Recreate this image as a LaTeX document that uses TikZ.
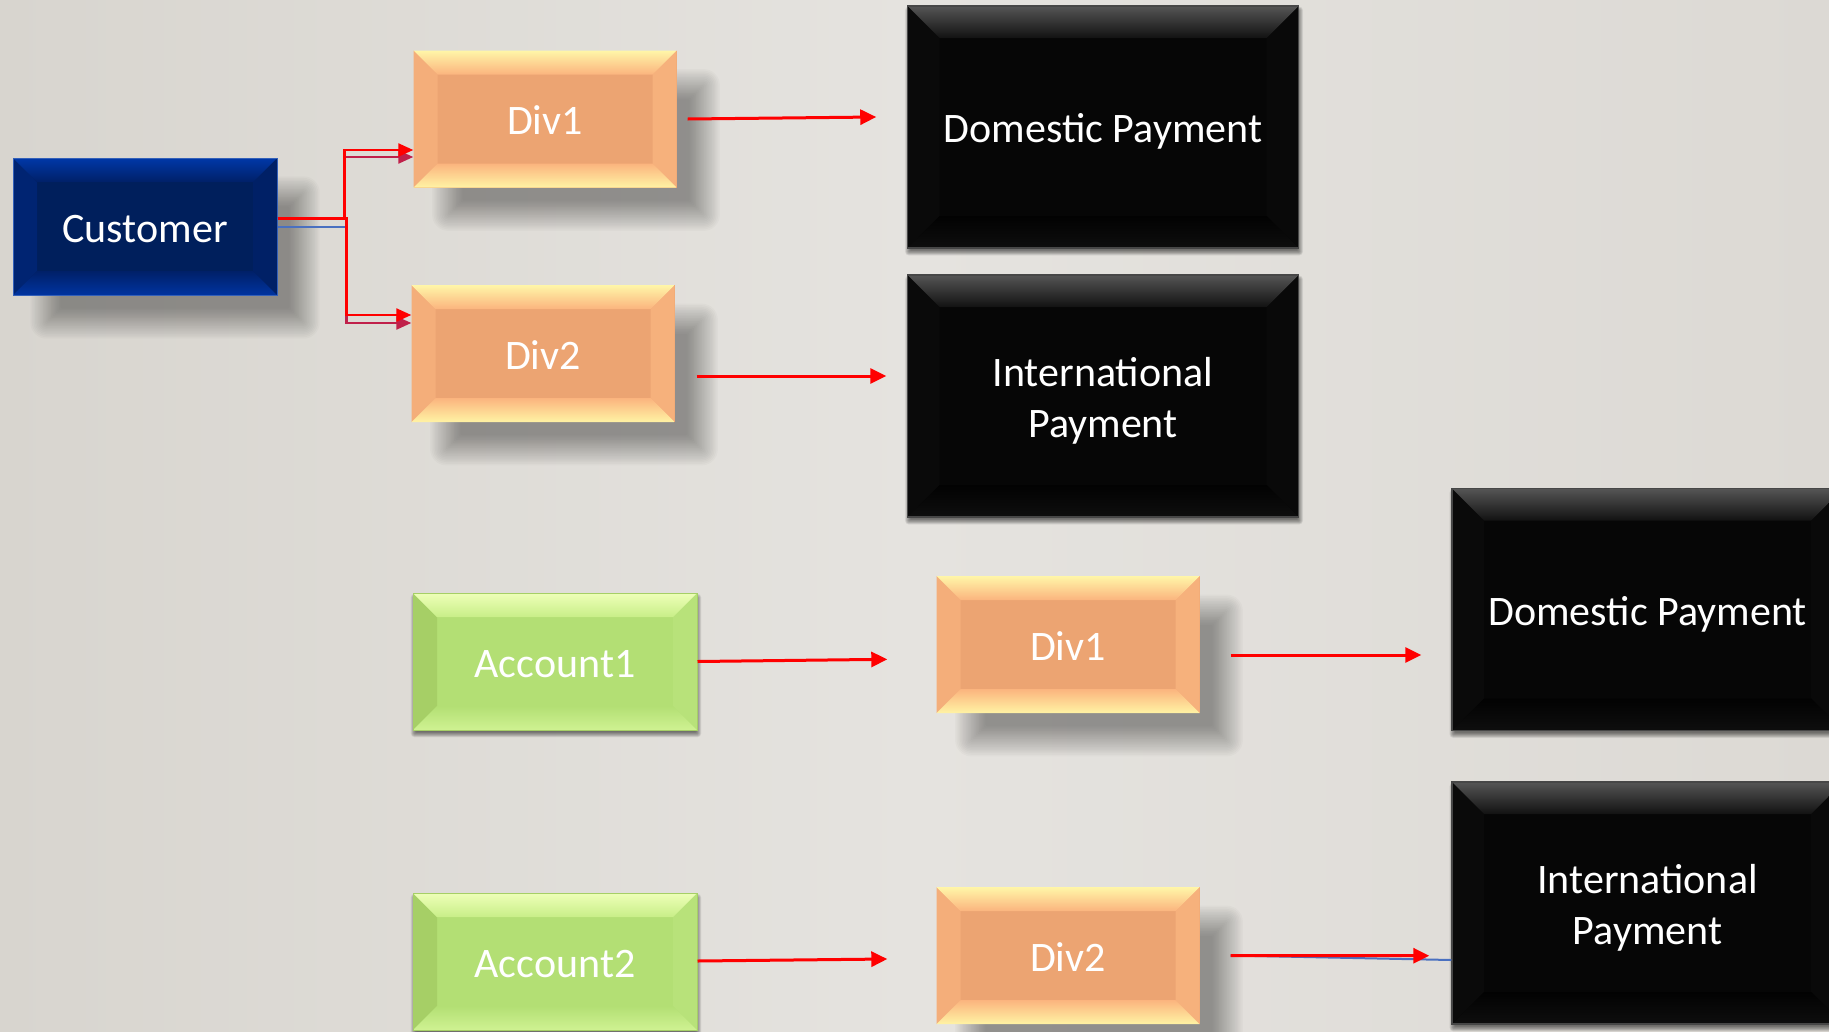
\documentclass[tikz,border=0pt]{standalone}
\usepackage{fontspec}
\setmainfont{Carlito}
\usetikzlibrary{arrows.meta,calc}
\pgfdeclarelayer{bg}
\pgfdeclarelayer{shadow}
\pgfsetlayers{bg,shadow,main}
\definecolor{bgL}{HTML}{D8D5CF}
\definecolor{bgM}{HTML}{E5E3DF}
\definecolor{bgR}{HTML}{DCD9D4}
\definecolor{orMain}{HTML}{ECA472}
\definecolor{orT1}{HTML}{FFF6A8}
\definecolor{orT2}{HTML}{FBB47E}
\definecolor{orB1}{HTML}{FBB47E}
\definecolor{orB2}{HTML}{FFF3A4}
\definecolor{orL}{HTML}{F4AE7A}
\definecolor{orR}{HTML}{F6B17C}
\definecolor{nvMain}{HTML}{001F5C}
\definecolor{nvT1}{HTML}{0038A8}
\definecolor{nvT2}{HTML}{002068}
\definecolor{nvB1}{HTML}{002068}
\definecolor{nvB2}{HTML}{0034A0}
\definecolor{nvL}{HTML}{002472}
\definecolor{nvR}{HTML}{002066}
\definecolor{grMain}{HTML}{B3DF74}
\definecolor{grT1}{HTML}{EEFFB8}
\definecolor{grT2}{HTML}{C8EE88}
\definecolor{grB1}{HTML}{B3DF74}
\definecolor{grB2}{HTML}{CFF292}
\definecolor{grL}{HTML}{A6CF66}
\definecolor{grR}{HTML}{B8E27A}
\definecolor{bkMain}{HTML}{060606}
\definecolor{bkT1}{HTML}{555555}
\definecolor{bkT2}{HTML}{121212}
\definecolor{bkB1}{HTML}{020202}
\definecolor{bkB2}{HTML}{0E0E0E}
\definecolor{bkL}{HTML}{0A0A0A}
\definecolor{bkR}{HTML}{090909}
\definecolor{crim}{HTML}{C0204A}
\definecolor{lnblue}{HTML}{4A70C0}
\newcommand\bevelpic[7]{%
  \path (path picture bounding box.north west) coordinate (pNW)
        (path picture bounding box.north east) coordinate (pNE)
        (path picture bounding box.south west) coordinate (pSW)
        (path picture bounding box.south east) coordinate (pSE);
  \path ([shift={(#1,-#1)}]pNW) coordinate (iNW)
        ([shift={(-#1,-#1)}]pNE) coordinate (iNE)
        ([shift={(#1,#1)}]pSW) coordinate (iSW)
        ([shift={(-#1,#1)}]pSE) coordinate (iSE);
  \fill[#6] (pNW) -- (iNW) -- (iSW) -- (pSW) -- cycle;
  \fill[#7] (pNE) -- (iNE) -- (iSE) -- (pSE) -- cycle;
  \shade[top color=#2, bottom color=#3] (pNW) -- (pNE) -- (iNE) -- (iNW) -- cycle;
  \shade[top color=#4, bottom color=#5] (iSW) -- (iSE) -- (pSE) -- (pSW) -- cycle;
}
% soft shadow: node, dx, dy (down), shrink, blur radius, opacity per step
\newcommand\softshadow[6]{%
  \begin{pgfonlayer}{shadow}
  \foreach \k in {1,...,20}{%
    \pgfmathsetmacro\ee{#5*(1-(\k-0.5)/10)-(#4)}%
    \pgfmathsetmacro\xa{#2-(\ee)}%
    \pgfmathsetmacro\xb{#2+(\ee)}%
    \pgfmathsetmacro\ya{-#3+(\ee)}%
    \pgfmathsetmacro\yb{-#3-(\ee)}%
    \pgfmathsetmacro\rc{max(#5*(1-(\k-0.5)/10),0)+1}%
    \fill[black,opacity=#6,rounded corners=\rc pt]
      ([shift={(\xa pt,\ya pt)}]#1.north west) rectangle ([shift={(\xb pt,\yb pt)}]#1.south east);
  }
  \end{pgfonlayer}}
\newcommand\lowtxt[1]{\raisebox{-12pt}[0pt][0pt]{\begin{tabular}{@{}c@{}}#1\end{tabular}}}
\tikzset{
  box/.style={inner sep=0pt, text=white, align=center,
    font=\fontsize{42}{51}\selectfont},
  orbox/.style={box, fill=orMain, minimum width=263pt, minimum height=137pt,
    path picture={\bevelpic{24pt}{orT1}{orT2}{orB1}{orB2}{orL}{orR}}},
  nvbox/.style={box, fill=nvMain, draw=nvT1!80!white, line width=1pt, minimum width=264pt, minimum height=137pt,
    path picture={\bevelpic{24pt}{nvT1}{nvT2}{nvB1}{nvB2}{nvL}{nvR}}},
  grbox/.style={box, fill=grMain, draw=grL, line width=1pt, minimum width=284pt, minimum height=137pt,
    path picture={\bevelpic{24pt}{grT1}{grT2}{grB1}{grB2}{grL}{grR}}},
  bkbox/.style={box, fill=bkMain, draw=black!72, line width=1.5pt, minimum width=391pt, minimum height=242pt,
    path picture={\bevelpic{32pt}{bkT1}{bkT2}{bkB1}{bkB2}{bkL}{bkR}}},
  arr/.style={draw=red, line width=3pt, -{Triangle[length=16pt,width=15pt]}},
  carr/.style={draw=red, line width=2.3pt, -{Triangle[length=15pt,width=13pt]}},
  crarr/.style={draw=crim, line width=2.3pt, -{Triangle[length=15pt,width=13pt]}},
  bline/.style={draw=lnblue, line width=2pt},
}
\begin{document}
\begin{tikzpicture}[x=1pt,y=-1pt]
\clip (0,0) rectangle (1829,1031);
\begin{pgfonlayer}{bg}
\shade[left color=bgL, right color=bgR, middle color=bgM] (0,0) rectangle (1829,1031);
\end{pgfonlayer}

% black boxes
\node[bkbox] (dom1) at (1103,127) {\lowtxt{Domestic Payment}};
\node[bkbox] (int1) at (1103,396) {\lowtxt{International\\Payment}};
\node[bkbox] (dom2) at (1647.5,609.5) {\lowtxt{Domestic Payment}};
\node[bkbox] (int2) at (1647.5,903) {\lowtxt{International\\Payment}};

% coloured boxes
\node[nvbox] (cust) at (145,226.5) {\lowtxt{Customer}};
\node[orbox] (d1) at (545,119) {\lowtxt{Div1}};
\node[orbox] (d2) at (543,353.5) {\lowtxt{Div2}};
\node[grbox] (acc1) at (555,661.5) {\lowtxt{Account1}};
\node[grbox] (acc2) at (555,961.5) {\lowtxt{Account2}};
\node[orbox] (d1b) at (1068,644.5) {\lowtxt{Div1}};
\node[orbox] (d2b) at (1068,955.5) {\lowtxt{Div2}};

% shadows
\softshadow{cust}{30}{31}{3}{16}{0.021}
\softshadow{d1}{31}{31}{3}{16}{0.021}
\softshadow{d2}{31}{31}{3}{16}{0.021}
\softshadow{d1b}{31}{31}{3}{16}{0.021}
\softshadow{d2b}{31}{31}{3}{16}{0.021}
\softshadow{acc1}{1}{4}{0}{3}{0.03}
\softshadow{acc2}{1}{4}{0}{3}{0.03}
\softshadow{dom1}{1}{4}{0}{3}{0.03}
\softshadow{int1}{1}{4}{0}{3}{0.03}
\softshadow{dom2}{1}{4}{0}{3}{0.03}
\softshadow{int2}{1}{4}{0}{3}{0.03}

% customer connectors
\draw[crarr] ([yshift=8pt]cust.east) -- ++(67,0) |- ([yshift=-38pt]d1.west);
\draw[crarr] ([yshift=8pt]cust.east) -- ++(69,0) |- ([yshift=30.5pt]d2.west);
\draw[bline] (cust.east) -- ++(68,0);
\draw[carr] ([yshift=8pt]cust.east) -- ++(67,0) |- ([yshift=-31pt]d1.west);
\draw[carr] ([yshift=8pt]cust.east) -- ++(69,0) |- ([yshift=38.5pt]d2.west);

% other connectors
\draw[arr] ([xshift=11pt]d1.east) -- ([shift={(-30.5pt,10pt)}]dom1.west);
\draw[arr] ([shift={(22pt,-22.5pt)}]d2.east) -- ([shift={(-20.5pt,20pt)}]int1.west);
\draw[arr] (acc1.east) -- ([shift={(-49pt,-14.8pt)}]d1b.west);
\draw[arr] ([yshift=0.5pt]acc2.east) -- ([shift={(-49pt,-3.5pt)}]d2b.west);
\draw[arr] ([shift={(31pt,-10.5pt)}]d1b.east) -- ([shift={(-30pt,-45.5pt)}]dom2.west);
\draw[bline] ([xshift=31pt]d2b.east) -- ([yshift=-57pt]int2.west);
\draw[arr] ([xshift=31pt]d2b.east) -- ([shift={(-22pt,-52.7pt)}]int2.west);
\end{tikzpicture}
\end{document}
